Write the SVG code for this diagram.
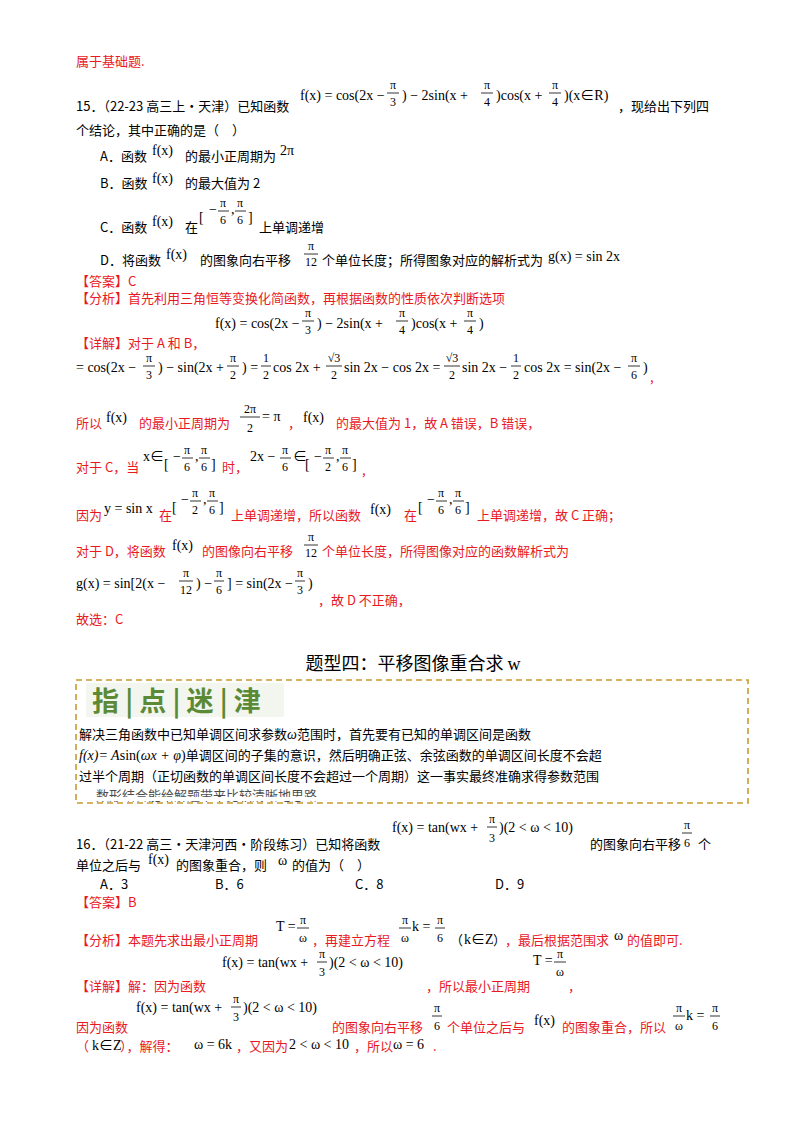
<svg xmlns="http://www.w3.org/2000/svg" width="800" height="1134" viewBox="0 0 800 1134">
<style>
text{font-family:"Noto Sans CJK SC","Liberation Sans",sans-serif;font-size:13px;fill:#000}
.r{fill:#e8191f}
.m{font-family:"Liberation Serif","Noto Sans CJK SC",serif;font-size:14px}
.s{font-family:"Liberation Serif",serif;font-size:12px;text-anchor:middle}
.fl{stroke:#000;stroke-width:0.8}
.t{font-size:18px;text-anchor:middle}
.g{font-size:27px;font-weight:bold;fill:#5b8a36}
</style>
<rect width="800" height="1134" fill="#fff"/>
<text class="r" x="76" y="66">属于基础题.</text>
<text class="m" x="300" y="100">f(x) = cos(2x − </text><text class="s" x="393" y="89">π</text><line class="fl" x1="387" y1="93" x2="399" y2="93"/><text class="s" x="393" y="106">3</text>
<text class="m" x="402" y="100">) − 2sin(x + </text><text class="s" x="487" y="89">π</text><line class="fl" x1="481" y1="93" x2="493" y2="93"/><text class="s" x="487" y="106">4</text>
<text class="m" x="496" y="100">)cos(x + </text><text class="s" x="555" y="89">π</text><line class="fl" x1="549" y1="93" x2="561" y2="93"/><text class="s" x="555" y="106">4</text>
<text class="m" x="564" y="100">)(x∈R)</text>
<text x="76" y="111">15．（22-23 高三上·天津）已知函数</text>
<text x="618" y="111">，现给出下列四</text>
<text x="76" y="135">个结论，其中正确的是（　）</text>
<text x="100" y="161">A．函数</text><text class="m" x="152" y="155">f(x)</text><text x="185" y="161">的最小正周期为</text><text class="m" x="280" y="155">2π</text>
<text x="100" y="188">B．函数</text><text class="m" x="152" y="183">f(x)</text><text x="185" y="188">的最大值为 2</text>
<text x="100" y="232">C．函数</text><text class="m" x="152" y="226">f(x)</text><text x="185" y="232">在</text>
<text class="m" x="199" y="222" font-size="34">[</text><text class="m" x="209" y="214">−</text><text class="s" x="223" y="207">π</text><line class="fl" x1="218" y1="211" x2="229" y2="211"/><text class="s" x="223" y="224">6</text><text class="m" x="231" y="214">,</text><text class="s" x="240" y="207">π</text><line class="fl" x1="235" y1="211" x2="246" y2="211"/><text class="s" x="240" y="224">6</text><text class="m" x="248" y="222" font-size="34">]</text>
<text x="259" y="232">上单调递增</text>
<text x="100" y="265">D．将函数</text><text class="m" x="166" y="259">f(x)</text><text x="200" y="265">的图象向右平移</text><text class="s" x="311" y="250">π</text><line class="fl" x1="304" y1="254" x2="318" y2="254"/><text class="s" x="311" y="266">12</text><text x="322" y="265">个单位长度；所得图象对应的解析式为</text><text class="m" x="548" y="261">g(x) = sin 2x</text>
<text class="r" x="76" y="286">【答案】C</text>
<text class="r" x="76" y="303">【分析】首先利用三角恒等变换化简函数，再根据函数的性质依次判断选项</text>
<text class="m" x="215" y="328">f(x) = cos(2x − </text><text class="s" x="308" y="317">π</text><line class="fl" x1="302" y1="321" x2="314" y2="321"/><text class="s" x="308" y="334">3</text>
<text class="m" x="317" y="328">) − 2sin(x + </text><text class="s" x="402" y="317">π</text><line class="fl" x1="396" y1="321" x2="408" y2="321"/><text class="s" x="402" y="334">4</text>
<text class="m" x="411" y="328">)cos(x + </text><text class="s" x="470" y="317">π</text><line class="fl" x1="464" y1="321" x2="476" y2="321"/><text class="s" x="470" y="334">4</text><text class="m" x="479" y="328">)</text>
<text class="r" x="76" y="348">【详解】对于 A 和 B，</text>
<text class="m" x="76" y="372">= cos(2x − </text><text class="s" x="149" y="362">π</text><line class="fl" x1="143" y1="366" x2="155" y2="366"/><text class="s" x="149" y="379">3</text>
<text class="m" x="158" y="372">) − sin(2x + </text><text class="s" x="233" y="362">π</text><line class="fl" x1="227" y1="366" x2="239" y2="366"/><text class="s" x="233" y="379">2</text>
<text class="m" x="242" y="372">) = </text><text class="s" x="266" y="362">1</text><line class="fl" x1="261" y1="366" x2="271" y2="366"/><text class="s" x="266" y="379">2</text>
<text class="m" x="273" y="372">cos 2x + </text><text class="s" x="334" y="362">√3</text><line class="fl" x1="326" y1="366" x2="342" y2="366"/><text class="s" x="334" y="379">2</text>
<text class="m" x="344" y="372">sin 2x − cos 2x = </text><text class="s" x="452" y="362">√3</text><line class="fl" x1="444" y1="366" x2="460" y2="366"/><text class="s" x="452" y="379">2</text>
<text class="m" x="462" y="372">sin 2x − </text><text class="s" x="516" y="362">1</text><line class="fl" x1="511" y1="366" x2="521" y2="366"/><text class="s" x="516" y="379">2</text>
<text class="m" x="524" y="372">cos 2x = sin(2x − </text><text class="s" x="634" y="362">π</text><line class="fl" x1="628" y1="366" x2="640" y2="366"/><text class="s" x="634" y="379">6</text><text class="m" x="643" y="372">)</text><text class="r" x="650" y="382">,</text>
<text class="r" x="76" y="428">所以</text><text class="m" x="106" y="422">f(x)</text><text class="r" x="139" y="428">的最小正周期为</text>
<text class="s" x="250" y="413">2π</text><line class="fl" x1="240" y1="417" x2="260" y2="417"/><text class="s" x="250" y="432">2</text><text class="m" x="262" y="421">= π</text>
<text class="r" x="288" y="428">，</text><text class="m" x="303" y="422">f(x)</text><text class="r" x="336" y="428">的最大值为 1，故 A 错误，B 错误，</text>
<text class="r" x="76" y="472">对于 C，当</text>
<text class="m" x="143" y="461">x∈</text><text class="m" x="164" y="469" font-size="34">[</text><text class="m" x="173" y="461">−</text><text class="s" x="187" y="454">π</text><line class="fl" x1="182" y1="458" x2="193" y2="458"/><text class="s" x="187" y="471">6</text><text class="m" x="195" y="461">,</text><text class="s" x="204" y="454">π</text><line class="fl" x1="199" y1="458" x2="210" y2="458"/><text class="s" x="204" y="471">6</text><text class="m" x="211" y="469" font-size="34">]</text>
<text class="r" x="222" y="472">时，</text>
<text class="m" x="250" y="461">2x − </text><text class="s" x="285" y="454">π</text><line class="fl" x1="280" y1="458" x2="291" y2="458"/><text class="s" x="285" y="471">6</text><text class="m" x="293" y="461">∈</text>
<text class="m" x="305" y="469" font-size="34">[</text><text class="m" x="314" y="461">−</text><text class="s" x="328" y="454">π</text><line class="fl" x1="323" y1="458" x2="334" y2="458"/><text class="s" x="328" y="471">2</text><text class="m" x="336" y="461">,</text><text class="s" x="345" y="454">π</text><line class="fl" x1="340" y1="458" x2="351" y2="458"/><text class="s" x="345" y="471">6</text><text class="m" x="352" y="469" font-size="34">]</text><text class="r" x="362" y="475">,</text>
<text class="r" x="76" y="520">因为</text><text class="m" x="104" y="513" font-size="12">y = sin x</text><text class="r" x="159" y="520">在</text>
<text class="m" x="172" y="512" font-size="34">[</text><text class="m" x="181" y="504">−</text><text class="s" x="195" y="497">π</text><line class="fl" x1="190" y1="501" x2="201" y2="501"/><text class="s" x="195" y="514">2</text><text class="m" x="203" y="504">,</text><text class="s" x="212" y="497">π</text><line class="fl" x1="207" y1="501" x2="218" y2="501"/><text class="s" x="212" y="514">6</text><text class="m" x="219" y="512" font-size="34">]</text>
<text class="r" x="231" y="520">上单调递增，所以函数</text><text class="m" x="370" y="514">f(x)</text><text class="r" x="404" y="520">在</text>
<text class="m" x="418" y="512" font-size="34">[</text><text class="m" x="427" y="504">−</text><text class="s" x="441" y="497">π</text><line class="fl" x1="436" y1="501" x2="447" y2="501"/><text class="s" x="441" y="514">6</text><text class="m" x="449" y="504">,</text><text class="s" x="458" y="497">π</text><line class="fl" x1="453" y1="501" x2="464" y2="501"/><text class="s" x="458" y="514">6</text><text class="m" x="465" y="512" font-size="34">]</text>
<text class="r" x="477" y="520">上单调递增，故 C 正确；</text>
<text class="r" x="76" y="556">对于 D，将函数</text><text class="m" x="172" y="550" font-size="12">f(x)</text><text class="r" x="202" y="556">的图像向右平移</text><text class="s" x="311" y="541">π</text><line class="fl" x1="304" y1="545" x2="318" y2="545"/><text class="s" x="311" y="557">12</text><text class="r" x="322" y="556">个单位长度，所得图像对应的函数解析式为</text>
<text class="m" x="76" y="588">g(x) = sin[2(x − </text><text class="s" x="186" y="577">π</text><line class="fl" x1="179" y1="581" x2="193" y2="581"/><text class="s" x="186" y="594">12</text>
<text class="m" x="196" y="588">) − </text><text class="s" x="219" y="577">π</text><line class="fl" x1="214" y1="581" x2="224" y2="581"/><text class="s" x="219" y="594">6</text>
<text class="m" x="227" y="588">] = sin(2x − </text><text class="s" x="300" y="577">π</text><line class="fl" x1="295" y1="581" x2="305" y2="581"/><text class="s" x="300" y="594">3</text><text class="m" x="308" y="588">)</text>
<text class="r" x="318" y="605">，故 D 不正确，</text>
<text class="r" x="76" y="624">故选：C</text>
<text class="t" x="413" y="670">题型四：平移图像重合求 <tspan font-family="Liberation Serif,serif">w</tspan></text>
<rect x="76" y="680" width="672" height="123" fill="none" stroke="#c99a2e" stroke-width="1.6" stroke-dasharray="6,4"/>
<rect x="86" y="683" width="198" height="34" fill="#f3f5ef"/>
<text class="g" x="92" y="711">指 | 点 | 迷 | 津</text>
<text x="79" y="739" font-size="15">解决三角函数中已知单调区间求参数<tspan class="m" font-size="11" font-style="italic">ω</tspan>范围时，首先要有已知的单调区间是函数</text>
<text x="79" y="760" font-size="15"><tspan class="m" font-style="italic">f(x)= A</tspan><tspan class="m">sin(</tspan><tspan class="m" font-style="italic">ωx + φ</tspan><tspan class="m">)</tspan>单调区间的子集的意识，然后明确正弦、余弦函数的单调区间长度不会超</text>
<text x="79" y="781" font-size="15">过半个周期（正切函数的单调区间长度不会超过一个周期）这一事实最终准确求得参数范围</text>
<text x="96" y="800" font-size="12" opacity="0.7">数形结合能给解题带来比较清晰地思路</text>
<rect x="90" y="797" width="650" height="4" fill="#fff"/>
<text class="m" x="392" y="832">f(x) = tan(wx + </text><text class="s" x="492" y="823">π</text><line class="fl" x1="487" y1="827" x2="497" y2="827"/><text class="s" x="492" y="842">3</text><text class="m" x="499" y="832">)(2 &lt; ω &lt; 10)</text>
<text x="76" y="849">16．（21-22 高三·天津河西·阶段练习）已知将函数</text>
<text x="590" y="849">的图象向右平移</text><text class="s" x="687" y="829">π</text><line class="fl" x1="682" y1="833" x2="692" y2="833"/><text class="s" x="687" y="847">6</text><text x="698" y="849">个</text>
<text x="76" y="870">单位之后与</text><text class="m" x="148" y="864" font-size="11">f(x)</text><text x="176" y="870">的图象重合，则</text><text class="m" x="278" y="865" font-size="11">ω</text><text x="292" y="870">的值为（　）</text>
<text x="100" y="889">A．3</text><text x="215" y="889">B．6</text><text x="355" y="889">C．8</text><text x="495" y="889">D．9</text>
<text class="r" x="76" y="907">【答案】B</text>
<text class="m" x="276" y="931">T = </text><text class="s" x="303" y="924">π</text><line class="fl" x1="297" y1="928" x2="309" y2="928"/><text class="s" x="303" y="942">ω</text>
<text class="s" x="405" y="924">π</text><line class="fl" x1="399" y1="928" x2="411" y2="928"/><text class="s" x="405" y="942">ω</text><text class="m" x="412" y="931">k = </text><text class="s" x="440" y="924">π</text><line class="fl" x1="435" y1="928" x2="445" y2="928"/><text class="s" x="440" y="942">6</text>
<text class="r" x="76" y="945">【分析】本题先求出最小正周期</text><text class="r" x="312" y="945">，再建立方程</text><text x="450" y="945" fill="#999">（</text><text class="m" x="464" y="944">k∈Z</text><text x="493" y="945" fill="#999">）</text><text class="r" x="505" y="945">，最后根据范围求</text><text class="m" x="614" y="940" font-size="11">ω</text><text class="r" x="627" y="945">的值即可.</text>
<text class="m" x="222" y="967">f(x) = tan(wx + </text><text class="s" x="322" y="958">π</text><line class="fl" x1="317" y1="962" x2="327" y2="962"/><text class="s" x="322" y="976">3</text><text class="m" x="329" y="967">)(2 &lt; ω &lt; 10)</text>
<text class="m" x="533" y="965">T = </text><text class="s" x="560" y="958">π</text><line class="fl" x1="554" y1="962" x2="566" y2="962"/><text class="s" x="560" y="976">ω</text>
<text class="r" x="76" y="991">【详解】解：因为函数</text><text class="r" x="426" y="991">，所以最小正周期</text><text class="r" x="568" y="991">，</text>
<text class="m" x="136" y="1012">f(x) = tan(wx + </text><text class="s" x="236" y="1003">π</text><line class="fl" x1="231" y1="1007" x2="241" y2="1007"/><text class="s" x="236" y="1021">3</text><text class="m" x="243" y="1012">)(2 &lt; ω &lt; 10)</text>
<text class="r" x="76" y="1032">因为函数</text><text class="r" x="332" y="1032">的图象向右平移</text><text class="s" x="437" y="1012">π</text><line class="fl" x1="432" y1="1016" x2="442" y2="1016"/><text class="s" x="437" y="1030">6</text><text class="r" x="447" y="1032">个单位之后与</text><text class="m" x="534" y="1025" font-size="11">f(x)</text><text class="r" x="562" y="1032">的图象重合，所以</text>
<text class="s" x="679" y="1012">π</text><line class="fl" x1="673" y1="1016" x2="685" y2="1016"/><text class="s" x="679" y="1030">ω</text><text class="m" x="686" y="1020">k = </text><text class="s" x="715" y="1012">π</text><line class="fl" x1="710" y1="1016" x2="720" y2="1016"/><text class="s" x="715" y="1030">6</text>
<text class="r" x="76" y="1051">（</text><text class="m" x="92" y="1050">k∈Z</text><text class="r" x="120" y="1051">），解得：</text><text class="m" x="194" y="1049">ω = 6k</text><text class="r" x="236" y="1051">，又因为</text><text class="m" x="289" y="1049">2 &lt; ω &lt; 10</text><text class="r" x="354" y="1051">，所以</text><text class="m" x="393" y="1049">ω = 6</text><text class="r" x="433" y="1051">.</text>
</svg>
